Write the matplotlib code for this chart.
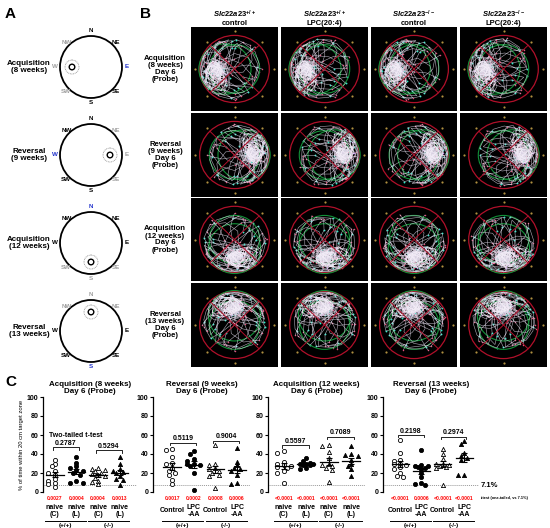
import numpy as np
import matplotlib.pyplot as plt
from matplotlib.patches import Circle

plt.rcParams['font.family'] = ['Liberation Sans', 'DejaVu Sans']
plt.rcParams['font.weight'] = 'bold'
plt.rcParams['mathtext.fontset'] = 'custom'
plt.rcParams['mathtext.it'] = 'Liberation Sans:italic:bold'
plt.rcParams['mathtext.rm'] = 'Liberation Sans:bold'
plt.rcParams['mathtext.bf'] = 'Liberation Sans:bold'

W, H = 550, 528

# ---- panel A: compass schematics
a_rows = ["Acquisition\n(8 weeks)", "Reversal\n(9 weeks)",
          "Acquisition\n(12 weeks)", "Reversal\n(13 weeks)"]
a_target = ["W", "E", "S", "N"]
a_start = ["E", "W", "N", "S"]
a_grey = [["NW", "W", "SW"], ["NE", "E", "SE"], ["SW", "S", "SE"], ["NW", "N", "NE"]]
compass = {"N": 90, "NE": 45, "E": 0, "SE": -45, "S": -90, "SW": -135, "W": 180, "NW": 135}

# ---- panel B: swim paths
b_cols = [r"$\mathit{Slc22a23}^{+/+}$" + "\ncontrol", r"$\mathit{Slc22a23}^{+/+}$" + "\nLPC(20:4)",
          r"$\mathit{Slc22a23}^{-/-}$" + "\ncontrol", r"$\mathit{Slc22a23}^{-/-}$" + "\nLPC(20:4)"]
b_rows = ["Acquisition\n(8 weeks)\nDay 6\n(Probe)", "Reversal\n(9 weeks)\nDay 6\n(Probe)",
          "Acquisition\n(12 weeks)\nDay 6\n(Probe)", "Reversal\n(13 weeks)\nDay 6\n(Probe)"]
# hand-traced path, target to the west, release at east
path_x = [0.85, 0.6, 0.3, 0.0, -0.3, -0.45, -0.55, -0.4, -0.3, -0.5, -0.65, -0.5, -0.2, 0.1, 0.3, 0.0,
          -0.35, -0.6, -0.7, -0.5, -0.2, 0.2, 0.5, 0.65, 0.55, 0.2, -0.1, -0.4, -0.55, -0.35, -0.45,
          -0.6, -0.4, -0.25, 0.0, 0.35, 0.7, 0.5, 0.0, -0.3, -0.5, -0.45, -0.3]
path_y = [0.0, 0.05, 0.1, 0.05, 0.0, 0.1, -0.05, -0.15, 0.05, 0.2, 0.0, -0.25, -0.3, -0.5, -0.7, -0.75,
          -0.6, -0.35, 0.1, 0.45, 0.65, 0.7, 0.5, 0.15, -0.3, -0.2, 0.1, 0.3, 0.15, -0.05, -0.2,
          -0.1, 0.05, 0.25, 0.4, 0.3, -0.1, -0.55, -0.45, -0.35, -0.05, 0.15, -0.1]
blob_x = [-0.45, -0.35, -0.5, -0.62, -0.55, -0.38, -0.3, -0.42, -0.55, -0.5, -0.4, -0.33, -0.45,
          -0.6, -0.65, -0.5, -0.32]
blob_y = [0.0, 0.12, 0.18, 0.05, -0.12, -0.15, 0.0, 0.1, 0.08, -0.05, -0.08, 0.06, 0.2, 0.12,
          -0.05, -0.2, -0.12]
row_rot = [0, 180, 90, -90]
col_tilt = [0, 18, -15, 30]

# ---- panel C: % time in target zone
c_titles = ["Acquisition (8 weeks)\nDay 6 (Probe)", "Reversal (9 weeks)\nDay 6 (Probe)",
            "Acquisition (12 weeks)\nDay 6 (Probe)", "Reversal (13 weeks)\nDay 6 (Probe)"]
c_groups = [["naive\n(C)", "naive\n(L)", "naive\n(C)", "naive\n(L)"],
            ["Control", "LPC\n-AA", "Control", "LPC\n-AA"],
            ["naive\n(C)", "naive\n(L)", "naive\n(C)", "naive\n(L)"],
            ["Control", "LPC\n-AA", "Control", "LPC\n-AA"]]
acq8 = [[34, 30, 27, 22, 20, 18, 14, 12, 10, 8, 5],
        [37, 31, 27, 25, 23, 22, 20, 18, 12, 10, 10],
        [25, 24, 23, 22, 20, 19, 18, 17, 15, 12, 11, 8],
        [37, 29, 24, 22, 21, 20, 17, 14, 13, 7]]
rev9 = [[45, 44, 37, 31, 30, 25, 22, 20, 18, 13, 8],
        [43, 40, 35, 33, 30, 29, 28, 27, 20, 2],
        [50, 30, 28, 25, 24, 22, 20, 18, 17, 4],
        [46, 32, 28, 25, 24, 22, 18, 9, 8]]
acq12 = [[43, 41, 32, 30, 28, 27, 26, 25, 22, 20, 9],
         [36, 33, 31, 30, 30, 29, 28, 28, 25, 24],
         [50, 48, 42, 36, 30, 28, 27, 25, 23, 11],
         [48, 40, 39, 38, 34, 30, 27, 24, 17]]
rev13 = [[55, 41, 34, 33, 30, 29, 28, 26, 24, 20, 17, 16],
         [44, 28, 27, 27, 26, 25, 24, 20, 16, 10, 8, 7],
         [45, 40, 35, 30, 29, 28, 27, 26, 25, 7],
         [54, 51, 41, 38, 36, 34, 18, 18]]
c_data = [acq8, rev9, acq12, rev13]
p_one = [["0.0027", "0.0004", "0.0004", "0.0013"],
         ["0.0017", "0.0002", "0.0008", "0.0006"],
         ["<0.0001", "<0.0001", "<0.0001", "<0.0001"],
         ["<0.0001", "0.0006", "<0.0001", "<0.0001"]]
p_two = [["0.2787", "0.5294"], ["0.5119", "0.9004"], ["0.5597", "0.7089"], ["0.2198", "0.2974"]]
bracket_y = [[47, 44], [52, 54], [49, 58], [60, 58]]
chance = 7.1

fig = plt.figure(figsize=(5.5, 5.28), dpi=100)


def px_axes(x0, y0, x1, y1):
    return fig.add_axes([x0 / W, 1 - y1 / H, (x1 - x0) / W, (y1 - y0) / H])


def turn(x, y, deg):
    a = np.radians(deg)
    return x * np.cos(a) - y * np.sin(a), x * np.sin(a) + y * np.cos(a)


canvas = px_axes(0, 0, W, H)
canvas.set_xlim(0, W)
canvas.set_ylim(H, 0)
canvas.axis('off')

for t, (x, y) in zip("ABC", [(5, 14), (140, 14), (5, 382)]):
    canvas.text(x, y, t, fontsize=11, fontweight='bold', va='center')

# A
for i in range(4):
    cx, cy, r = 91, 67 + i * 88, 31
    canvas.add_patch(Circle((cx, cy), r, fill=False, lw=1.3, ec='black'))
    for name, ang in compass.items():
        rr = 35 if len(name) == 2 else 36
        col = 'black'
        if name in a_grey[i]:
            col = '#a0a0a0'
        if name == a_start[i]:
            col = '#2233cc'
        canvas.text(cx + rr * np.cos(np.radians(ang)), cy - rr * np.sin(np.radians(ang)), name,
                    fontsize=4.5, color=col, ha='center', va='center')
    ta = np.radians(compass[a_target[i]])
    tx, ty = cx + 19 * np.cos(ta), cy - 19 * np.sin(ta)
    canvas.add_patch(Circle((tx, ty), 2.8, fill=False, lw=1.0, ec='black'))
    canvas.add_patch(Circle((tx, ty), 7, fill=False, lw=0.6, ec='#888888', ls=(0, (1, 1))))
    canvas.text(29, cy, a_rows[i], fontsize=5.8, ha='center', va='center', linespacing=1.0)

# B
col_x = [(191, 278), (281, 368), (371, 457), (460, 547)]
row_y = [(27, 111), (113, 197), (198, 281), (283, 367)]
copies = [(1, 0, 1.0), (-1, 35, 1.1), (1, 150, 1.15), (-1, -70, 1.05), (1, 100, 0.95), (-1, 200, 1.2),
          (1, -130, 0.9)]
for j, (x0, x1) in enumerate(col_x):
    canvas.text((x0 + x1) / 2, 18, b_cols[j], fontsize=5.5, ha='center', va='center', linespacing=1.1)
for i, (y0, y1) in enumerate(row_y):
    canvas.text(165, (y0 + y1) / 2, b_rows[i], fontsize=5.6, ha='center', va='center', linespacing=1.0)
    for j, (x0, x1) in enumerate(col_x):
        ax = px_axes(x0, y0, x1, y1)
        ax.set_facecolor('black')
        ax.set_xlim(-1, 1)
        ax.set_ylim(-1, 1)
        ax.set_xticks([])
        ax.set_yticks([])
        for s in ax.spines.values():
            s.set_visible(False)
        for flip, tilt, sc in copies:
            # swing the path about the platform so the search stays centred on it
            px = (np.array(path_x) + 0.45) * sc
            py = np.array(path_y) * sc * flip
            qx, qy = turn(px, py, tilt + col_tilt[j])
            qx = qx - 0.45
            # squeeze into the pool without piling up on the wall
            rad = np.maximum(np.hypot(qx, qy), 1e-6)
            k = 0.8 * np.tanh(rad / 0.8) / rad
            qx, qy = qx * k, qy * k
            rx, ry = turn(qx, qy, row_rot[i])
            ax.plot(rx, ry, color='#ddd6e6', lw=0.4, alpha=0.8)
            ax.scatter(rx[::3], ry[::3], s=1.2, color='#e0507a', lw=0)
            ax.scatter(rx[1::6], ry[1::6], s=1.8, color='#30e8c8', lw=0)
        for k in range(4):
            bx = (np.array(blob_x) + 0.45) * (1 + 0.15 * k) - 0.45
            by = np.array(blob_y) * (1 + 0.2 * k) * (-1) ** k
            rx, ry = turn(bx, by, row_rot[i] + 10 * k)
            ax.plot(rx, ry, color='#f4eef8', lw=0.45, alpha=0.85)
            ax.scatter(rx[::2], ry[::2], s=1.2, color='#c890f0', lw=0)
        ax.add_patch(Circle((0, 0), 0.8, fill=False, ec='#b0102a', lw=0.9))
        for d in (45, 135):
            dd = np.radians(d)
            ax.plot([-0.8 * np.cos(dd), 0.8 * np.cos(dd)], [-0.8 * np.sin(dd), 0.8 * np.sin(dd)],
                    color='#b0102a', lw=0.7)
        tr = np.radians(180 + row_rot[i])
        ax.add_patch(Circle((0, 0), 0.58, fill=False, ec='#129038', lw=0.8))
        ax.add_patch(Circle((0.22 * np.cos(tr), 0.22 * np.sin(tr)), 0.6, fill=False, ec='#129038', lw=0.8))
        for d in range(0, 360, 45):
            ax.scatter(0.91 * np.cos(np.radians(d)), 0.91 * np.sin(np.radians(d)), s=2.5, color='#b09040', lw=0)


def swarm(vals, dx=0.15):
    xs = np.zeros(len(vals))
    placed = []
    for i in np.argsort(vals)[::-1]:
        best, best_gap = 0.0, -1
        for k in [0, -1, 1, -2, 2]:
            x = k * dx
            gap = min([np.hypot((x - a) * 21.5, (vals[i] - b) * 0.95) for a, b in placed] or [99])
            if gap >= 3.8:
                best = x
                break
            if gap > best_gap:
                best, best_gap = x, gap
        xs[i] = best
        placed.append((best, vals[i]))
    return xs


# C
c_pos = [(43, 137), (153, 250), (268, 365), (383, 479)]
c_xlim = [(-0.55, 3.8), (-0.88, 3.6), (-0.7, 3.6), (-0.8, 3.7)]
styles = [('o', 'white'), ('o', 'black'), ('^', 'white'), ('^', 'black')]
for n in range(4):
    ax = px_axes(c_pos[n][0], 397, c_pos[n][1], 492)
    ax.set_xlim(*c_xlim[n])
    ax.set_ylim(0, 100)
    for s in ['top', 'right', 'bottom']:
        ax.spines[s].set_visible(False)
    ax.spines['left'].set_linewidth(0.9)
    ax.set_yticks(range(0, 101, 20))
    ax.set_xticks([])
    ax.tick_params(axis='y', labelsize=5, length=2.5, width=0.8, pad=1)
    ax.axhline(chance, color='#999999', lw=0.7, ls=(0, (1, 1)))
    ax.set_title(c_titles[n], fontsize=5.8, fontweight='bold', pad=3, linespacing=1.0)
    tb = ax.get_xaxis_transform()
    for g in range(4):
        v = np.array(c_data[n][g], dtype=float)
        xs = g + swarm(v)
        m, fc = styles[g]
        ax.scatter(xs, v, s=9, marker=m, facecolor=fc, edgecolor='black', lw=0.6, zorder=3, clip_on=False)
        mean = v.mean()
        sem = v.std(ddof=1) / np.sqrt(len(v))
        ax.plot([g - 0.4, g + 0.4], [mean, mean], color='black', lw=0.9, zorder=4)
        ax.errorbar(g, mean, yerr=sem, color='black', lw=0.8, capsize=2, capthick=0.8, zorder=4)
        ax.text(g, -0.065, p_one[n][g], transform=tb, fontsize=3.6, color='red', ha='center', va='center')
        ax.text(g, -0.2, c_groups[n][g], transform=tb, fontsize=5, ha='center', va='center', linespacing=0.95)
    for k, lab in enumerate(["(+/+)", "(-/-)"]):
        g0 = 2 * k
        ax.plot([g0 - 0.45, g0 + 1.45], [-0.3, -0.3], transform=tb, color='black', lw=0.7, clip_on=False)
        ax.text(g0 + 0.5, -0.33, lab, transform=tb, fontsize=4.5, ha='center', va='top')
        by = bracket_y[n][k]
        ax.plot([g0 - 0.1, g0 - 0.1, g0 + 1.1, g0 + 1.1], [by - 2.5, by, by, by - 2.5], color='black', lw=0.6)
        ax.text(g0 + 0.5, by + 0.5, p_two[n][k], fontsize=5, ha='center', va='bottom')
    if n == 0:
        ax.set_ylabel("% of time within 20 cm target zone", fontsize=4.2, labelpad=2)
        ax.text(0.95, 56, "Two-tailed t-test", fontsize=5, ha='center', va='bottom')
    if n == 3:
        ax.text(1.02, chance, "7.1%", transform=ax.get_yaxis_transform(), fontsize=5.5, va='center')
        ax.text(1.01, -0.065, "t-test (one-tailed, vs 7.1%)", transform=ax.transAxes, fontsize=2.8,
                va='center')

fig.savefig("out.png", dpi=100)
